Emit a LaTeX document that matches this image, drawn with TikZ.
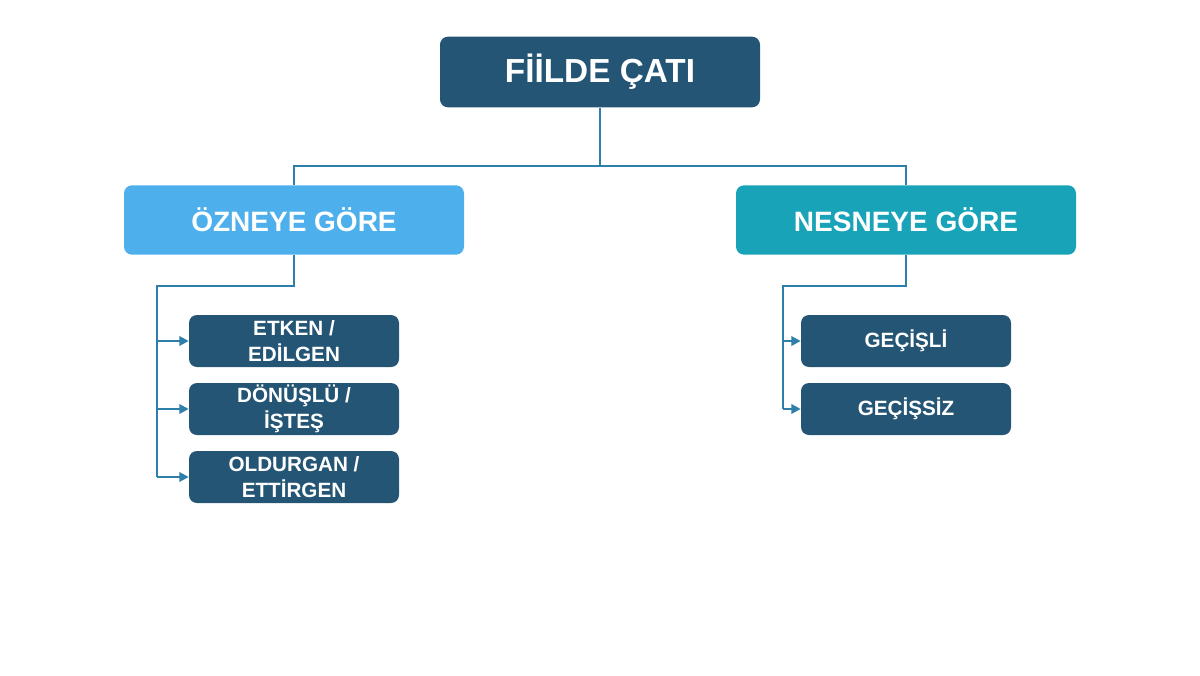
\documentclass[tikz,border=0pt]{standalone}
\usepackage{fontspec}
\setmainfont{Liberation Sans}
\usetikzlibrary{arrows.meta}
\definecolor{navy}{HTML}{245574}
\definecolor{skyblue}{HTML}{4DB0EC}
\definecolor{teal}{HTML}{18A3B9}
\definecolor{linkblue}{HTML}{2E80AA}
\begin{document}
\begin{tikzpicture}[x=0.75pt,y=-0.75pt,
	box/.style={rounded corners=6pt, text=white, font=\bfseries, align=center, inner sep=0pt},
	leaf/.style={box, fill=navy, minimum width=157.5pt, minimum height=39pt, font=\bfseries\fontsize{15.5}{19.5}\selectfont},
	link/.style={linkblue, line width=2.2pt},
	arr/.style={link, -{Triangle[length=7pt,width=7pt]}}]
	\useasboundingbox (0,0) rectangle (1200,675);
	\node[box, fill=navy, minimum width=240pt, minimum height=53pt, font=\bfseries\fontsize{25}{30}\selectfont] (root) at (600,72) {FİİLDE ÇATI};
	\node[box, fill=skyblue, minimum width=255pt, minimum height=52pt, font=\bfseries\fontsize{21}{25}\selectfont] (subj) at (294,220) {ÖZNEYE GÖRE};
	\node[box, fill=teal, minimum width=255pt, minimum height=52pt, font=\bfseries\fontsize{21}{25}\selectfont] (obj) at (906,220) {NESNEYE GÖRE};
	\node[leaf] (etken) at (294,341) {ETKEN /\\EDİLGEN};
	\node[leaf] (donus) at (294,409) {DÖNÜŞLÜ /\\İŞTEŞ};
	\node[leaf] (oldur) at (294,477) {OLDURGAN /\\ETTİRGEN};
	\node[leaf] (gecisli) at (906,341) {GEÇİŞLİ};
	\node[leaf] (gecissiz) at (906,409) {GEÇİŞSİZ};
	\coordinate (mid) at (600,166);
	\coordinate (ltrunk) at (157,286);
	\coordinate (rtrunk) at (783,286);
	% top level
	\draw[link] (root.south) -- (mid);
	\draw[link] (subj.north) |- (mid) -| (obj.north);
	% left branch
	\draw[link] (subj.south) |- (ltrunk) -- (ltrunk |- oldur);
	\foreach \n in {etken,donus,oldur}
		\draw[arr] (ltrunk |- \n) -- (\n.west);
	% right branch
	\draw[link] (obj.south) |- (rtrunk) -- (rtrunk |- gecissiz);
	\foreach \n in {gecisli,gecissiz}
		\draw[arr] (rtrunk |- \n) -- (\n.west);
\end{tikzpicture}
\end{document}
